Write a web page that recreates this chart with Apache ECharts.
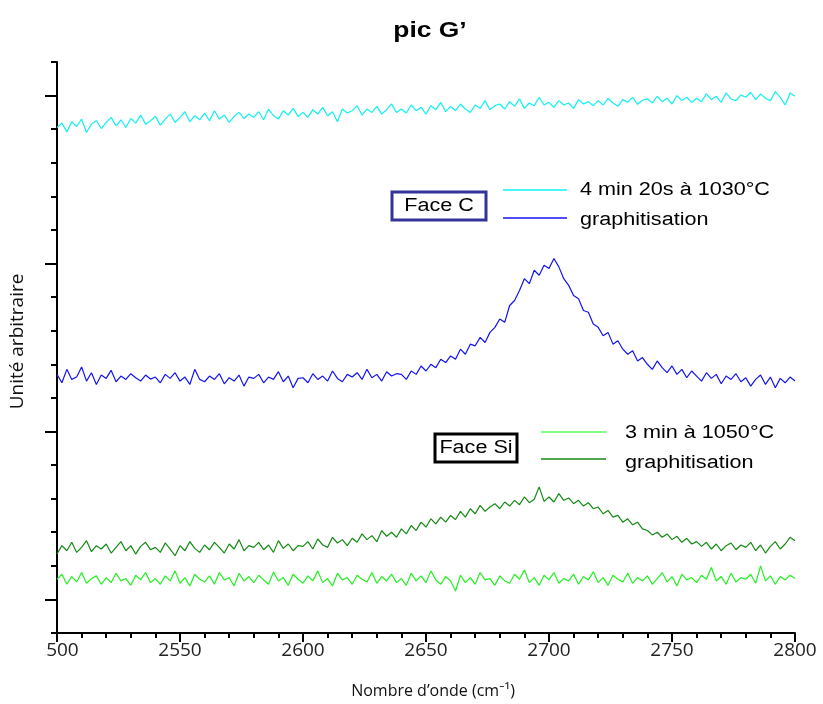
<!DOCTYPE html>
<html>
<head>
<meta charset="utf-8">
<script src="https://cdn.jsdelivr.net/npm/echarts@6/dist/echarts.min.js"></script>
<style>html,body{margin:0;padding:0;background:#fff}#c{width:823px;height:704px}</style>
</head>
<body>
<div id="c"></div>
<script>
// wavenumbers 2500..2800 step 2
const xStart = 2500, xStep = 2;
const xTicks = [2500, 2550, 2600, 2650, 2700, 2750, 2800];
const yMajorTicks = [1, 6, 11, 16];

const cyanC = [
15.05,15.18,14.92,15.22,15.08,15.3,14.9,15.15,15.26,15.02,
15.2,15.35,15.1,15.28,15.05,15.32,15.18,15.42,15.15,15.25,
15.38,15.12,15.3,15.45,15.2,15.35,15.52,15.22,15.4,15.28,
15.48,15.25,15.55,15.3,15.42,15.2,15.38,15.5,15.32,15.45,
15.35,15.52,15.28,15.6,15.4,15.3,15.55,15.42,15.62,15.38,
15.5,15.35,15.58,15.45,15.65,15.4,15.52,15.22,15.6,15.48,
15.55,15.7,15.42,15.6,15.5,15.68,15.45,15.58,15.75,15.5,
15.6,15.48,15.72,15.55,15.65,15.45,15.7,15.58,15.8,15.52,
15.68,15.55,15.75,15.6,15.5,15.72,15.62,15.85,15.58,15.7,
15.75,15.6,15.82,15.68,15.9,15.62,15.78,15.7,15.95,15.72,
15.8,15.65,15.85,15.72,15.78,15.62,15.88,15.75,15.82,15.7,
15.85,15.72,15.92,15.78,15.68,15.88,15.8,15.95,15.74,15.86,
15.9,15.78,15.98,15.82,15.92,15.75,16.0,15.85,15.95,15.8,
15.92,15.82,16.05,15.88,15.98,15.8,16.08,15.9,15.85,16.02,
15.95,16.1,15.88,16.05,15.92,15.85,16.12,15.95,15.72,16.08,
15.98];

const blueC = [
7.7,7.45,7.85,7.55,7.62,7.92,7.5,7.75,7.4,7.68,
7.58,7.82,7.48,7.65,7.55,7.72,7.6,7.5,7.68,7.56,
7.62,7.45,7.7,7.58,7.75,7.5,7.62,7.4,7.85,7.55,
7.48,7.65,7.55,7.72,7.42,7.6,7.5,7.68,7.35,7.62,
7.58,7.7,7.45,7.62,7.55,7.78,7.48,7.65,7.3,7.58,
7.6,7.45,7.72,7.55,7.65,7.5,7.8,7.58,7.48,7.7,
7.62,7.75,7.55,7.85,7.6,7.7,7.5,7.78,7.65,7.72,
7.7,7.55,7.8,7.7,7.95,7.8,8.0,7.9,8.15,8.05,
8.25,8.15,8.45,8.3,8.6,8.55,8.8,8.65,8.95,9.1,
9.35,9.25,9.75,9.9,10.2,10.55,10.4,10.8,10.65,10.95,
10.85,11.15,10.9,10.55,10.35,10.05,9.95,9.6,9.55,9.2,
9.1,8.85,8.95,8.6,8.7,8.45,8.3,8.4,8.1,8.2,
8.0,7.85,8.1,7.9,7.75,7.95,7.7,7.85,7.6,7.8,
7.65,7.5,7.75,7.58,7.7,7.42,7.65,7.55,7.72,7.48,
7.6,7.35,7.55,7.68,7.4,7.62,7.3,7.58,7.45,7.62,
7.5];

const darkGreenSi = [
2.35,2.6,2.45,2.7,2.4,2.55,2.75,2.42,2.6,2.5,
2.65,2.38,2.55,2.72,2.45,2.6,2.35,2.58,2.7,2.48,
2.55,2.4,2.68,2.5,2.3,2.6,2.45,2.72,2.52,2.4,
2.62,2.48,2.7,2.55,2.38,2.65,2.5,2.78,2.45,2.6,
2.55,2.7,2.48,2.62,2.4,2.75,2.52,2.65,2.45,2.6,
2.58,2.72,2.5,2.8,2.62,2.55,2.85,2.68,2.78,2.6,
2.82,2.7,2.95,2.78,2.9,2.72,3.05,2.88,3.0,2.85,
3.1,2.95,3.2,3.05,3.3,3.15,3.4,3.25,3.45,3.3,
3.5,3.38,3.62,3.45,3.7,3.55,3.8,3.62,3.75,3.85,
3.7,3.9,3.78,3.95,3.82,4.05,3.88,3.98,4.35,3.92,
4.05,3.9,4.15,3.95,4.02,3.85,3.95,3.78,3.88,3.7,
3.75,3.55,3.65,3.45,3.5,3.3,3.4,3.22,3.3,3.1,
3.05,2.92,3.0,2.85,2.95,2.78,2.88,2.7,2.82,2.65,
2.72,2.58,2.7,2.5,2.65,2.45,2.6,2.68,2.48,2.62,
2.55,2.7,2.45,2.62,2.38,2.58,2.72,2.5,2.65,2.85,
2.75];

const lightGreenSi = [
1.6,1.75,1.45,1.68,1.52,1.8,1.48,1.62,1.7,1.45,
1.65,1.5,1.78,1.55,1.62,1.42,1.72,1.58,1.8,1.5,
1.62,1.45,1.7,1.55,1.85,1.48,1.65,1.4,1.75,1.6,
1.52,1.7,1.45,1.8,1.58,1.65,1.4,1.78,1.55,1.68,
1.5,1.72,1.58,1.45,1.82,1.55,1.65,1.42,1.75,1.6,
1.48,1.7,1.55,1.85,1.5,1.62,1.4,1.78,1.58,1.65,
1.45,1.72,1.6,1.52,1.8,1.48,1.68,1.55,1.75,1.5,
1.62,1.42,1.78,1.55,1.7,1.5,1.85,1.58,1.45,1.68,
1.55,1.25,1.72,1.5,1.65,1.45,1.8,1.58,1.62,1.42,
1.7,1.55,1.48,1.75,1.6,1.88,1.5,1.65,1.42,1.72,
1.58,1.8,1.48,1.62,1.55,1.75,1.45,1.68,1.58,1.82,
1.5,1.65,1.42,1.72,1.6,1.52,1.78,1.48,1.65,1.55,
1.7,1.45,1.62,1.8,1.52,1.68,1.4,1.75,1.58,1.65,
1.5,1.72,1.6,1.95,1.55,1.68,1.45,1.78,1.52,1.65,
1.6,1.75,1.48,2.0,1.55,1.7,1.45,1.68,1.58,1.72,
1.62];

function pairs(arr){ return arr.map((v,i)=>[xStart + i*xStep, v]); }

const chart = echarts.init(document.getElementById('c'), null, {renderer:'canvas'});
const FONT = "'Liberation Sans', Arial, sans-serif";
const FONT2 = "'Open Sans', 'Noto Sans', sans-serif";
const SX = 1.2;
function txt(x, y, s, opts){
  return Object.assign({type:'text', x:x, y:y, scaleX:SX, z:10,
    style:Object.assign({text:s, fontFamily:FONT, fontSize:18, fill:'#000', verticalAlign:'middle'}, opts||{})});
}
chart.setOption({
  animation:false,
  backgroundColor:'#fff',
  grid:{left:57, right:28, top:62, bottom:71, containLabel:false},
  xAxis:{type:'value', min:2500, max:2800, interval:50,
    name:'Nombre d\u2019onde (cm\u207B\u00B9)', nameLocation:'middle', nameGap:50,
    nameTextStyle:{fontFamily:FONT2, fontSize:16, color:'#111', padding:[0,0,0,14]},
    axisLine:{lineStyle:{color:'#000', width:2}},
    axisTick:{length:9, lineStyle:{color:'#000', width:2}},
    minorTick:{show:true, splitNumber:5, length:5, lineStyle:{color:'#000', width:2}},
    axisLabel:{fontFamily:FONT2, fontSize:19, color:'#222', margin:8,
      customValues: xTicks, formatter: v => String(v)},
    splitLine:{show:false}
  },
  yAxis:[{type:'value', min:0, max:17, interval:1,
    name:'Unit\u00E9 arbitraire', nameLocation:'middle', nameGap:30, nameRotate:90,
    nameTextStyle:{fontFamily:FONT2, fontSize:19, color:'#111', padding:[0,0,0,12]},
    axisLine:{lineStyle:{color:'#000', width:2}},
    axisTick:{length:6, lineStyle:{color:'#000', width:2}},
    axisLabel:{show:false}, splitLine:{show:false}
  },{type:'value', min:0, max:17, position:'left',
    axisLine:{show:false},
    axisTick:{show:true, length:12, customValues:yMajorTicks, lineStyle:{color:'#000', width:2}},
    axisLabel:{show:false}, splitLine:{show:false}
  }],
  series:[
    {type:'line', data:pairs(cyanC), showSymbol:false, lineStyle:{color:'#12f0f0', width:1.2}, itemStyle:{color:'#12f0f0'}},
    {type:'line', data:pairs(blueC), showSymbol:false, lineStyle:{color:'#1414f0', width:1.2}, itemStyle:{color:'#1414f0'}},
    {type:'line', data:pairs(darkGreenSi), showSymbol:false, lineStyle:{color:'#138a13', width:1.2}, itemStyle:{color:'#138a13'}},
    {type:'line', data:pairs(lightGreenSi), showSymbol:false, lineStyle:{color:'#22f022', width:1.2}, itemStyle:{color:'#22f022'}}
  ],
  graphic:[
    // mimic left clipping of first tick label in reference
    {type:'rect', shape:{x:0, y:638, width:45, height:26}, style:{fill:'#fff'}, z:20},
    txt(430, 31, "pic G\u2019", {fontSize:22, fontWeight:'bold', align:'center'}),
    {type:'rect', shape:{x:392, y:192, width:94, height:28}, style:{fill:'#fff', stroke:'#333399', lineWidth:3}},
    txt(439, 206, 'Face C', {align:'center'}),
    {type:'line', shape:{x1:503, y1:190, x2:567, y2:190}, style:{stroke:'#12f0f0', lineWidth:1.5}},
    {type:'line', shape:{x1:503, y1:218, x2:567, y2:218}, style:{stroke:'#1414f0', lineWidth:1.5}},
    txt(580, 190, '4 min 20s \u00E0 1030\u00B0C'),
    txt(580, 220, 'graphitisation'),
    {type:'rect', shape:{x:435, y:434, width:82, height:28}, style:{fill:'#fff', stroke:'#000', lineWidth:3}},
    txt(476, 448, 'Face Si', {align:'center'}),
    {type:'line', shape:{x1:541, y1:432, x2:606, y2:432}, style:{stroke:'#55ff55', lineWidth:1.5}},
    {type:'line', shape:{x1:541, y1:459, x2:606, y2:459}, style:{stroke:'#138a13', lineWidth:1.5}},
    txt(625, 433, '3 min \u00E0 1050\u00B0C'),
    txt(625, 463, 'graphitisation')
  ]
});
</script>
</body>
</html>
